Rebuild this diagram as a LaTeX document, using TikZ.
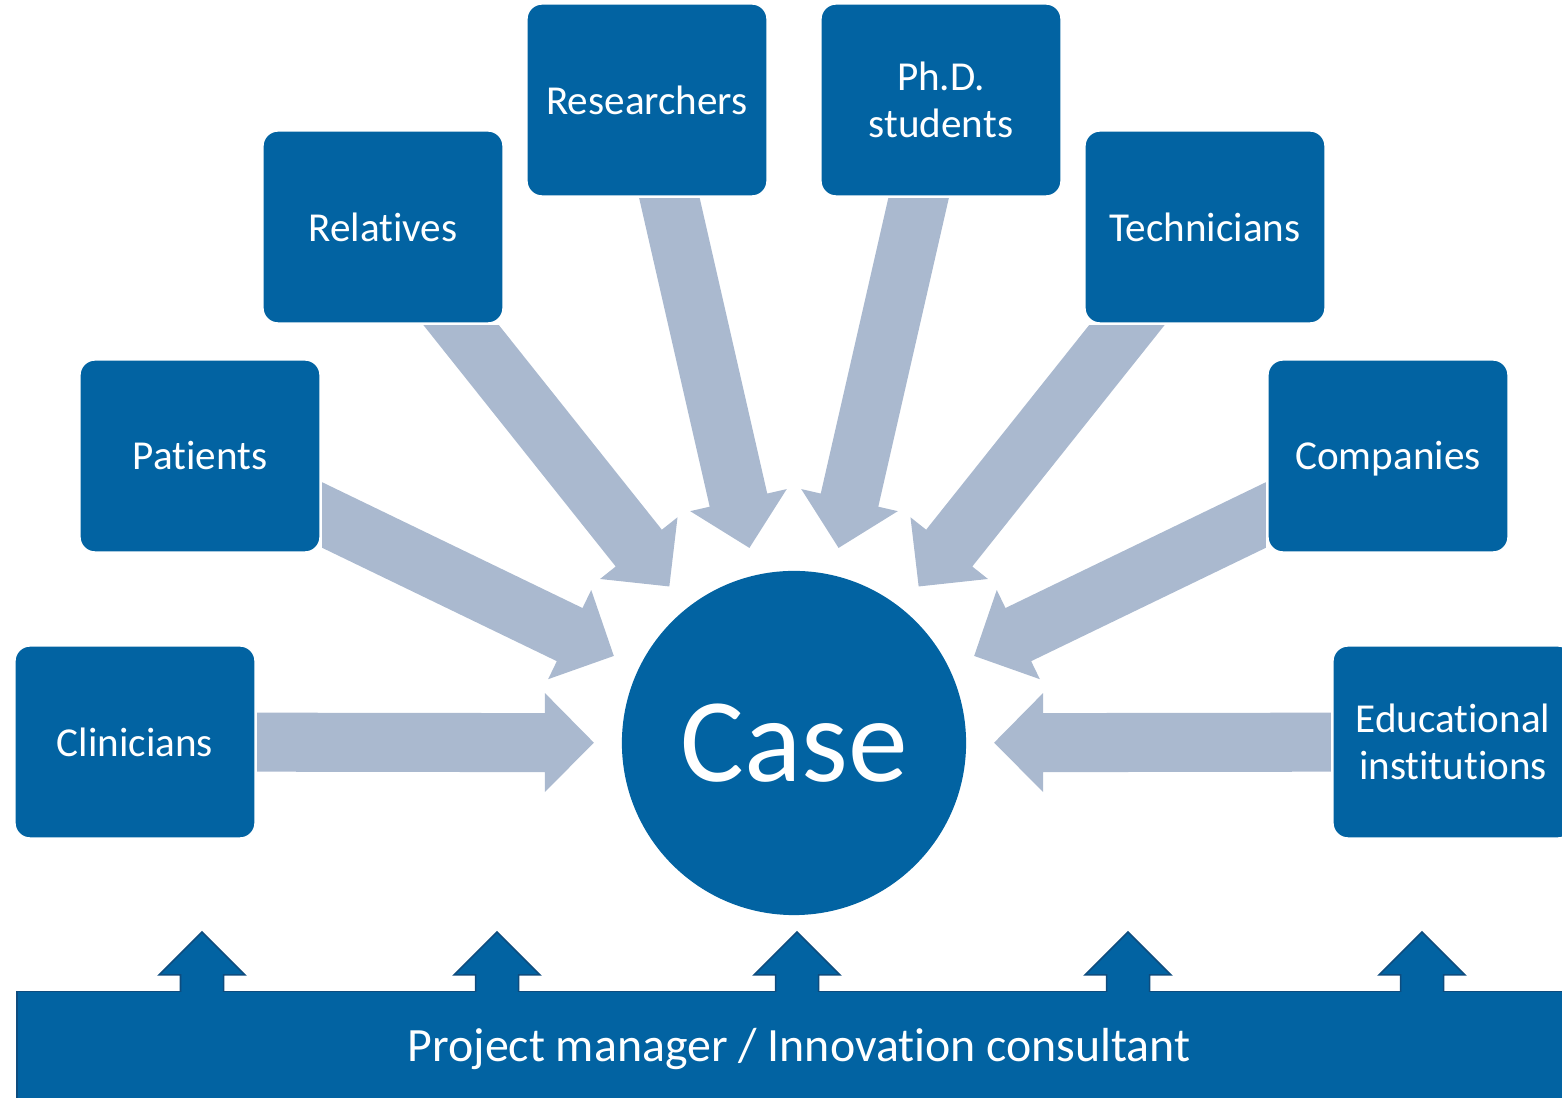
\documentclass[tikz,border=0pt]{standalone}
\usepackage{fontspec}
\setmainfont[Ligatures={NoCommon}]{Carlito}
\usetikzlibrary{calc}
\definecolor{boxblue}{RGB}{2,99,162}
\definecolor{edgeblue}{RGB}{14,76,126}
\definecolor{arrowgrey}{RGB}{170,185,207}
\pgfdeclarelayer{arrows}
\pgfdeclarelayer{cover}
\pgfsetlayers{arrows,cover,main}
\newcommand\bigarr[1]{%
  \begin{pgfonlayer}{arrows}
  \path ($(case.center)!2cm!(#1.center)$) coordinate (tip#1)
        ($(tip#1)!0.49cm!(#1.center)$) coordinate (hb#1);
  \fill[arrowgrey]
     ($(#1.center)!0.295cm!90:(hb#1)$) --
     ($(hb#1)!0.295cm!-90:(#1.center)$) --
     ($(hb#1)!0.495cm!-90:(#1.center)$) --
     (tip#1) --
     ($(hb#1)!0.495cm!90:(#1.center)$) --
     ($(hb#1)!0.295cm!90:(#1.center)$) --
     ($(#1.center)!0.295cm!-90:(hb#1)$) -- cycle;
  \end{pgfonlayer}
  \begin{pgfonlayer}{cover}
  \fill[white] ($(#1.south west)+(-1.5,1.5)$) rectangle ($(#1.north east)+(1.5,-1.5)$);
  \end{pgfonlayer}}
\tikzset{
  box/.style={rectangle, rounded corners=0.15cm, fill=boxblue, draw=white,
    line width=0.015cm, minimum width=2.4cm, minimum height=1.92cm,
    inner sep=0pt, text=white, align=center,
    font=\fontsize{11.7}{13.2}\selectfont},
  hub/.style={circle, fill=boxblue, minimum size=3.44cm, inner sep=0pt,
    text=white, font=\fontsize{34}{40}\selectfont},
  basebar/.style={rectangle, fill=boxblue, draw=edgeblue, line width=0.015cm,
    minimum width=15.64cm, minimum height=1.15cm, inner sep=0pt,
    text=white, font=\fontsize{13.6}{16}\selectfont},
  uparrow/.style={fill=boxblue, draw=edgeblue, line width=0.015cm}
}
\begin{document}
\begin{tikzpicture}[x=0.01cm, y=-0.01cm]
\useasboundingbox (0,0) rectangle (1562,1098);
\clip (0,0) rectangle (1562,1098);
\node[hub] (case) at (794,743) {Case};
\node[box] (clin) at (135,742) {Clinicians};
\node[box] (pat)  at (200,456) {Patients};
\node[box] (rel)  at (383,227) {Relatives};
\node[box] (res)  at (647,100) {Researchers};
\node[box] (phd)  at (941,100) {Ph.D.\\students};
\node[box] (tech) at (1205,227) {Technicians};
\node[box] (comp) at (1388,456) {Com\smash{p}anies};
\node[box] (edu)  at (1453,742) {Educational\\institutions};
\bigarr{clin}
\bigarr{pat}
\bigarr{rel}
\bigarr{res}
\bigarr{phd}
\bigarr{tech}
\bigarr{comp}
\bigarr{edu}
\node[basebar, anchor=north west] (pm) at (16,991) {Project manager / Innovation consultant};
\foreach \x in {202,497,797,1128,1422} {
  \filldraw[uparrow] (\x-21.5,992) -- (\x-21.5,975) -- (\x-43,975) -- (\x,932)
     -- (\x+43,975) -- (\x+21.5,975) -- (\x+21.5,992);
}
\end{tikzpicture}
\end{document}
